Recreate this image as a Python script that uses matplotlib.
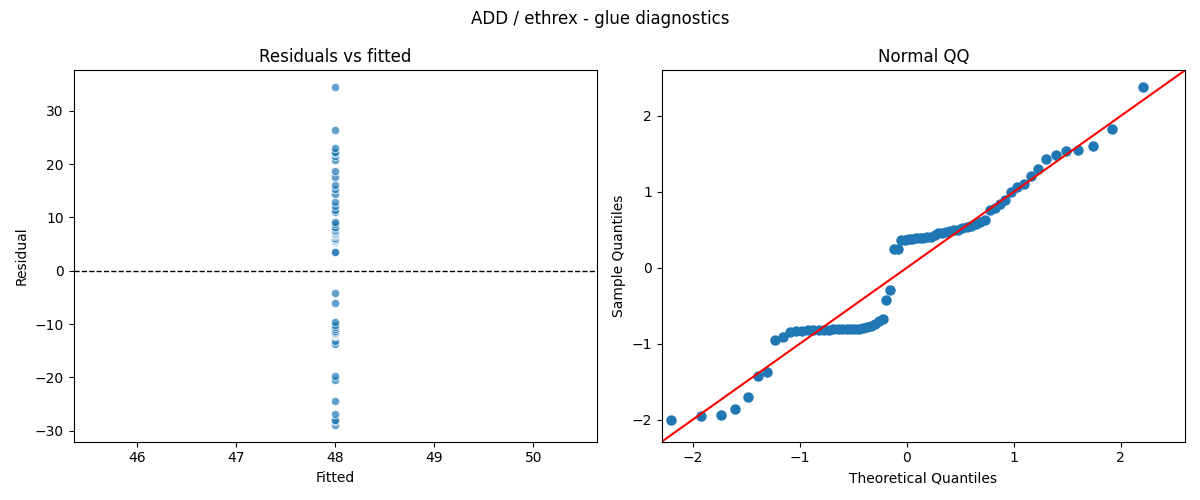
import numpy as np
import matplotlib
matplotlib.use("Agg")
import matplotlib.pyplot as plt
from statistics import NormalDist

# Data
fitted_value = 48.0
residuals = [
    -28.9, -28.2, -27.9, -26.9, -24.5, -20.5, -19.8,
    -13.7, -13.1, -12.2, -12.1, -12.0, -11.9, -11.9, -11.9,
    -11.8, -11.8, -11.7, -11.7, -11.7, -11.7, -11.65, -11.65,
    -11.6, -11.4, -11.3, -11.0, -10.6, -10.1, -9.7,
    -6.1, -4.2,
    3.6, 3.6,
    5.35, 5.35, 5.43, 5.5, 5.57, 5.64, 5.72, 5.79, 5.93,
    6.22, 6.51, 6.66, 6.8, 6.95, 7.09, 7.24, 7.52, 7.67,
    7.96, 8.25, 8.68, 9.12,
    11.0, 11.43, 12.15, 12.95, 14.33, 15.34, 15.99, 17.51,
    18.67, 20.69, 21.46, 22.14, 22.34, 23.09, 26.41, 34.41,
]
fitted = [fitted_value] * len(residuals)

suptitle = "ADD / ethrex - glue diagnostics"

fig, (ax1, ax2) = plt.subplots(1, 2, figsize=(12, 5), dpi=100)

# Residuals vs fitted
ax1.scatter(fitted, residuals, s=36, color="#1f77b4", alpha=0.7,
            edgecolor="white", linewidth=0.75)
ax1.axhline(0, color="black", linestyle="--", linewidth=1)
ax1.set_title("Residuals vs fitted")
ax1.set_xlabel("Fitted")
ax1.set_ylabel("Residual")

# Normal QQ
r = np.sort(np.asarray(residuals, dtype=float))
n = len(r)
sample_q = (r - r.mean()) / r.std()
pos = np.arange(1, n + 1) / (n + 1)
theo_q = np.array([NormalDist().inv_cdf(p) for p in pos])
ax2.plot(theo_q, sample_q, "o", color="#1f77b4", markersize=6.5)
lims = [-2.29, 2.60]
ax2.plot(lims, lims, "r-")
ax2.set_xlim(lims)
ax2.set_ylim(lims)
ax2.set_title("Normal QQ")
ax2.set_xlabel("Theoretical Quantiles")
ax2.set_ylabel("Sample Quantiles")

fig.suptitle(suptitle)
fig.tight_layout()
fig.savefig("out.png", dpi=100)
